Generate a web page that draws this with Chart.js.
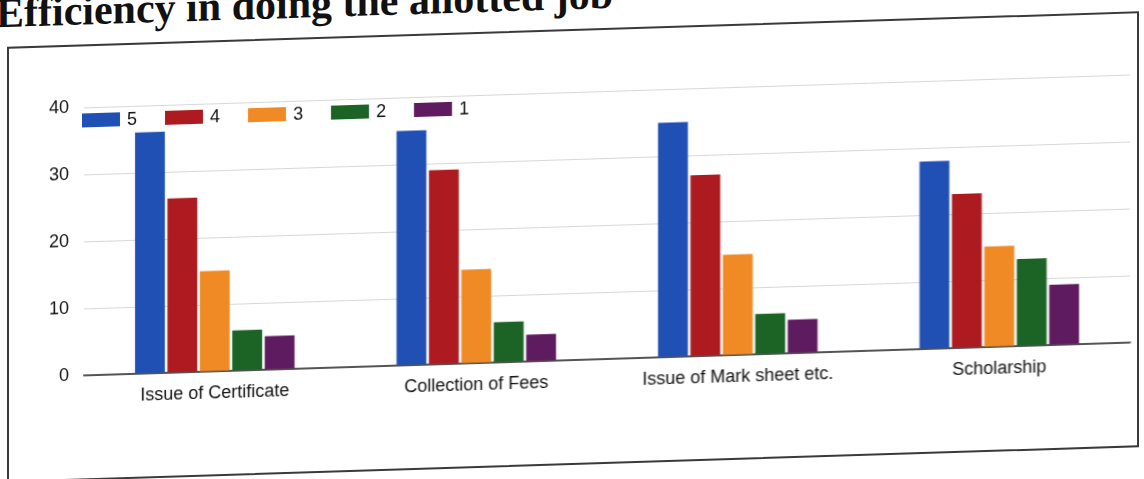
<!DOCTYPE html>
<html>
<head>
<meta charset="utf-8">
<script src="https://cdn.jsdelivr.net/npm/chart.js@4.4.1/dist/chart.umd.min.js"></script>
<style>
  html, body { margin: 0; padding: 0; background: #fff; overflow: hidden; }
  #page {
    position: absolute; left: 0; top: 0; width: 1144px; height: 479px;
    transform-origin: 575px 250px; transform: skewY(-1.8deg);
  }
  #title {
    position: absolute; left: -4px; top: -29px; margin: 0;
    font: bold 42px "Liberation Serif", "DejaVu Serif", serif; color: #111; white-space: nowrap;
  }
  #frame {
    position: absolute; left: 7px; top: 29px; width: 1132px; height: 436px;
    box-sizing: border-box; border: 2px solid #3a3a3a; background: #fff;
  }
  #frame canvas { position: absolute; left: 0; top: 0; }
  #legend {
    position: absolute; left: 73px; top: 67px; display: flex;
    font: 18px "Liberation Sans", Arial, sans-serif; color: #111;
  }
  .item { display: flex; align-items: center; height: 14px; margin-right: 28px; }
  .box { width: 38px; height: 14px; margin-right: 7px; }
</style>
</head>
<body>
<div id="page">
  <h1 id="title">Efficiency in doing the allotted job</h1>
  <div id="frame">
    <canvas id="myChart" width="1128" height="432"></canvas>
    <div id="legend"></div>
  </div>
</div>
<script>
const categories = ["Issue of Certificate", "Collection of Fees", "Issue of Mark sheet etc.", "Scholarship"];
const seriesNames = ["5", "4", "3", "2", "1"];
const rating5 = [36, 35, 35, 28];
const rating4 = [26, 29, 27, 23];
const rating3 = [15, 14, 15, 15];
const rating2 = [6, 6, 6, 13];
const rating1 = [5, 4, 5, 9];
const yTicks = [0, 10, 20, 30, 40];
const colors = ["#2150b4", "#ad1a1f", "#f08a24", "#1c6326", "#5f1b5f"];

Chart.defaults.font.family = "Liberation Sans, Arial, sans-serif";
Chart.defaults.font.size = 18;
Chart.defaults.color = "#111";

const values = [rating5, rating4, rating3, rating2, rating1];

const data = {
  labels: categories,
  datasets: seriesNames.map(function (name, i) {
    return {
      label: name,
      data: values[i],
      backgroundColor: colors[i],
      categoryPercentage: 0.62,
      barPercentage: 0.92
    };
  })
};

const config = {
  type: "bar",
  data,
  options: {
    responsive: false,
    animation: false,
    layout: {
      padding: { left: 0, top: 61, right: 7, bottom: 0 }
    },
    plugins: {
      legend: { display: false },
      tooltip: { enabled: false }
    },
    scales: {
      x: {
        grid: { display: false },
        border: { display: true, color: "#555", width: 1.5 },
        ticks: { padding: 3, maxRotation: 0, autoSkip: false },
        afterFit: function (scale) { scale.height = 103; }
      },
      y: {
        min: 0,
        max: 40,
        afterBuildTicks: function (scale) {
          scale.ticks = yTicks.map(function (v) { return { value: v }; });
        },
        grid: {
          drawTicks: false,
          color: function (ctx) { return ctx.tick && ctx.tick.value === 0 ? "#555" : "#d8d8d8"; }
        },
        border: { display: false },
        ticks: { padding: 15 },
        afterFit: function (scale) { scale.width = 75; }
      }
    }
  }
};

const ctx = document.getElementById("myChart").getContext("2d");
const chart = new Chart(ctx, config);

// legend built from the chart's own datasets
const legendEl = document.getElementById("legend");
chart.data.datasets.forEach(function (ds) {
  const item = document.createElement("div");
  item.className = "item";
  const box = document.createElement("span");
  box.className = "box";
  box.style.background = ds.backgroundColor;
  const txt = document.createElement("span");
  txt.textContent = ds.label;
  item.appendChild(box);
  item.appendChild(txt);
  legendEl.appendChild(item);
});
</script>
</body>
</html>
